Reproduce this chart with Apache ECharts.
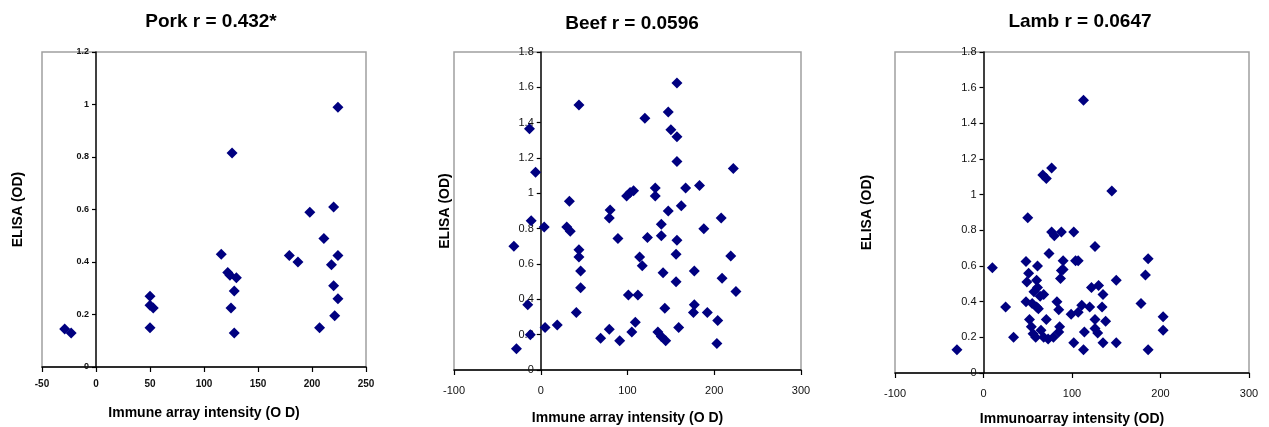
<!DOCTYPE html>
<html>
<head>
<meta charset="utf-8">
<script src="https://cdn.jsdelivr.net/npm/echarts@6/dist/echarts.min.js"></script>
<style>
  html, body { margin: 0; padding: 0; background: #ffffff; }
  #chart { width: 1269px; height: 427px; }
</style>
</head>
<body>
<div id="chart"></div>
<script>
// Immunoarray intensity (x) vs ELISA OD (y) for each meat species
const porkPoints = [
  [-29, 0.145], [-23, 0.13], [50, 0.27], [50, 0.235], [53, 0.225], [50, 0.15],
  [116, 0.43], [122, 0.36], [124, 0.35], [130, 0.34], [128, 0.29], [125, 0.225],
  [128, 0.13], [126, 0.815], [179, 0.425], [187, 0.40], [198, 0.59], [211, 0.49],
  [220, 0.61], [224, 0.99], [224, 0.425], [218, 0.39], [220, 0.31], [224, 0.26],
  [221, 0.195], [207, 0.15]
];

const beefPoints = [
  [-28, 0.12], [-31, 0.70], [-13, 1.365], [-6, 1.12], [-11, 0.845], [-15, 0.37],
  [-12, 0.20], [4, 0.81], [5, 0.24], [19, 0.255], [33, 0.955], [30, 0.81],
  [34, 0.785], [44, 1.50], [44, 0.68], [44, 0.64], [46, 0.56], [46, 0.465],
  [41, 0.325], [69, 0.18], [79, 0.23], [80, 0.905], [79, 0.86], [89, 0.745],
  [91, 0.165], [99, 0.985], [103, 1.005], [107, 1.015], [101, 0.425], [112, 0.425],
  [105, 0.215], [109, 0.27], [114, 0.64], [117, 0.59], [120, 1.425], [123, 0.75],
  [132, 1.03], [132, 0.985], [135, 0.215], [139, 0.19], [144, 0.165], [139, 0.825],
  [139, 0.76], [141, 0.55], [143, 0.35], [147, 1.46], [150, 1.36], [157, 1.32],
  [157, 1.625], [157, 1.18], [147, 0.90], [157, 0.735], [156, 0.655], [156, 0.50],
  [159, 0.24], [162, 0.93], [167, 1.03], [183, 1.045], [188, 0.80], [177, 0.56],
  [177, 0.37], [176, 0.325], [192, 0.325], [204, 0.28], [203, 0.15], [208, 0.86],
  [209, 0.52], [219, 0.645], [222, 1.14], [225, 0.445]
];

const lambPoints = [
  [-30, 0.13], [10, 0.59], [25, 0.37], [34, 0.20], [50, 0.87], [67, 1.11],
  [71, 1.09], [77, 1.15], [113, 1.53], [145, 1.02], [74, 0.67], [77, 0.79],
  [80, 0.77], [88, 0.79], [102, 0.79], [126, 0.71], [48, 0.625], [61, 0.60],
  [90, 0.63], [104, 0.63], [107, 0.63], [88, 0.575], [87, 0.53], [51, 0.56],
  [49, 0.51], [60, 0.52], [61, 0.48], [57, 0.455], [68, 0.44], [64, 0.43],
  [150, 0.52], [122, 0.48], [130, 0.49], [135, 0.44], [48, 0.40], [55, 0.39],
  [60, 0.37], [62, 0.36], [83, 0.40], [85, 0.355], [111, 0.38], [120, 0.37],
  [134, 0.37], [99, 0.33], [107, 0.34], [71, 0.30], [52, 0.30], [54, 0.26],
  [86, 0.26], [126, 0.30], [138, 0.29], [126, 0.25], [129, 0.225], [114, 0.23],
  [56, 0.22], [59, 0.20], [65, 0.24], [68, 0.20], [73, 0.19], [79, 0.20],
  [85, 0.23], [102, 0.17], [113, 0.13], [135, 0.17], [150, 0.17], [178, 0.39],
  [183, 0.55], [186, 0.64], [186, 0.13], [203, 0.315], [203, 0.24], [90, 0.58]
];

const panelTitles = ['Pork r = 0.432*', 'Beef r = 0.0596', 'Lamb r = 0.0647'];
const xAxisTitles = ['Immune array intensity (O D)', 'Immune array intensity (O D)', 'Immunoarray intensity (OD)'];
const yAxisTitle = 'ELISA (OD)';
// [min, max, interval]
const xScales = [[-50, 250, 50], [-100, 300, 100], [-100, 300, 100]];
const yScales = [[0, 1.2, 0.2], [0, 1.8, 0.2], [0, 1.8, 0.2]];

const seriesData = [porkPoints, beefPoints, lambPoints];

// Layout of each panel
const panels = [
  { grid: { left: 42, top: 52, width: 324, height: 315 }, titleX: 206, titleTop: 7,
    xLabelMargin: 12, xNameGap: 39, yNameGap: 71, tickFont: 9, xTickFont: 10, tickWeight: 'bold' },
  { grid: { left: 454, top: 52, width: 347, height: 318 }, titleX: 627, titleTop: 9,
    xLabelMargin: 15, xNameGap: 41, yNameGap: 89, tickFont: 11, xTickFont: 11, tickWeight: 'normal' },
  { grid: { left: 895, top: 52, width: 354, height: 321 }, titleX: 1075, titleTop: 7,
    xLabelMargin: 15, xNameGap: 39, yNameGap: 109, tickFont: 11, xTickFont: 11, tickWeight: 'normal' }
];

// The vertical axis is drawn where x = 0, so shift it right from the grid's left edge
function zeroOffset(i) {
  const [min, max] = xScales[i];
  return -((0 - min) / (max - min)) * panels[i].grid.width;
}

const FONT = '"Liberation Sans", Arial, sans-serif';
const MARK = '#000080';

const option = {
  animation: false,
  backgroundColor: '#ffffff',
  title: panels.map((p, i) => ({
    text: panelTitles[i],
    left: p.titleX,
    top: p.titleTop,
    textAlign: 'center',
    textStyle: { fontFamily: FONT, fontSize: 19, fontWeight: 'bold', color: '#000' }
  })),
  grid: panels.map(p => Object.assign({
    show: true, borderColor: '#a0a0a0', borderWidth: 1.5, backgroundColor: '#ffffff',
    containLabel: false, outerBoundsMode: 'none'
  }, p.grid)),
  xAxis: panels.map((p, i) => ({
    type: 'value',
    gridIndex: i,
    min: xScales[i][0], max: xScales[i][1], interval: xScales[i][2],
    name: xAxisTitles[i],
    nameLocation: 'middle',
    nameGap: p.xNameGap,
    nameTextStyle: { fontFamily: FONT, fontSize: 14, fontWeight: 'bold', color: '#000' },
    axisLine: { show: true, onZero: false, lineStyle: { color: '#000', width: 1.5 } },
    axisTick: { show: true, length: 5, lineStyle: { color: '#000', width: 1.2 } },
    axisLabel: { margin: p.xLabelMargin, fontFamily: FONT, fontSize: p.xTickFont, fontWeight: p.tickWeight, color: '#111' },
    splitLine: { show: false }
  })),
  yAxis: panels.map((p, i) => ({
    type: 'value',
    gridIndex: i,
    position: 'left',
    offset: zeroOffset(i),
    min: yScales[i][0], max: yScales[i][1], interval: yScales[i][2],
    name: yAxisTitle,
    nameLocation: 'middle',
    nameGap: p.yNameGap,
    nameRotate: 90,
    nameTextStyle: { fontFamily: FONT, fontSize: 14, fontWeight: 'bold', color: '#000' },
    axisLine: { show: true, onZero: false, lineStyle: { color: '#000', width: 1.5 } },
    axisTick: { show: true, length: 4, lineStyle: { color: '#000', width: 1.2 } },
    axisLabel: { margin: 7, fontFamily: FONT, fontSize: p.tickFont, fontWeight: p.tickWeight, color: '#111' },
    splitLine: { show: false }
  })),
  series: seriesData.map((d, i) => ({
    type: 'scatter',
    xAxisIndex: i,
    yAxisIndex: i,
    data: d,
    symbol: 'diamond',
    symbolSize: [11, 11],
    itemStyle: { color: MARK, opacity: 1 }
  }))
};

const chart = echarts.init(document.getElementById('chart'), null, { renderer: 'canvas' });
chart.setOption(option);
</script>
</body>
</html>
